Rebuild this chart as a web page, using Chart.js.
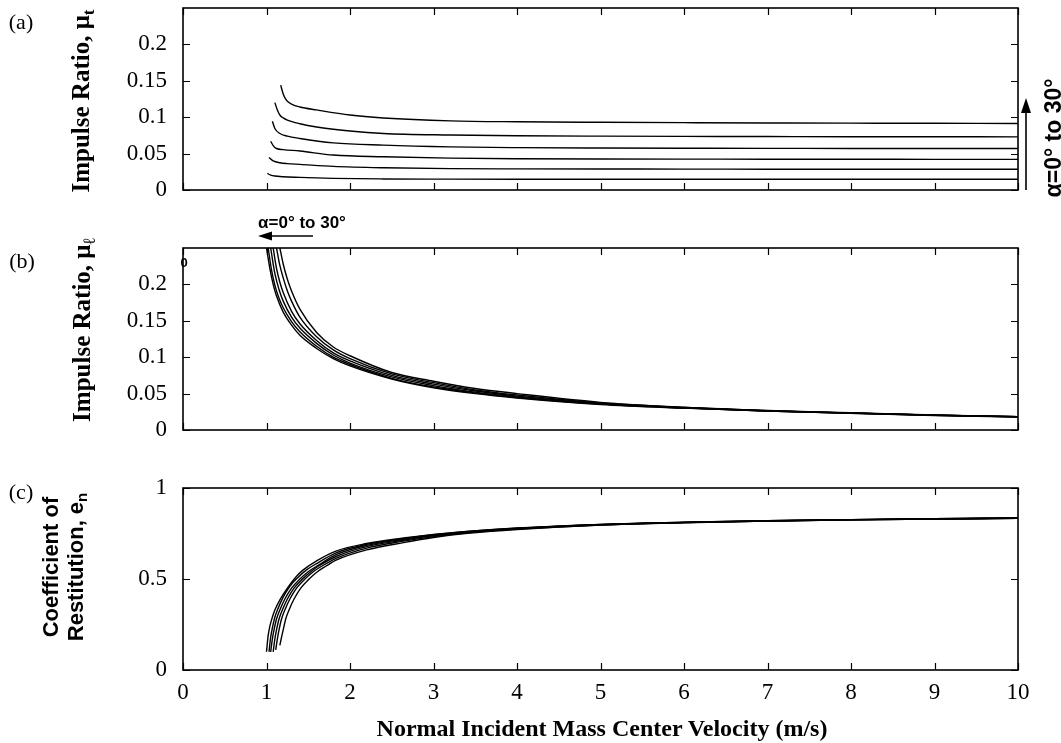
<!DOCTYPE html>
<html><head><meta charset="utf-8">
<script src="https://cdn.jsdelivr.net/npm/chart.js@4.4.1/dist/chart.umd.min.js"></script>
<style>
html,body{margin:0;padding:0;background:#fff;}
#wrap{position:relative;width:1061px;height:743px;overflow:hidden;background:#fff;}
canvas{position:absolute;left:0;top:0;}
.t{position:absolute;white-space:nowrap;color:#000;line-height:1;}
.serif{font-family:"Liberation Serif","Times New Roman",serif;}
.sans{font-family:"Liberation Sans",Arial,sans-serif;}
.rot{transform:translate(-50%,-50%) rotate(-90deg);}
.ctr{transform:translate(-50%,-50%);}
sub{font-size:0.68em;vertical-align:-0.3em;line-height:0;}
</style></head><body>
<div id="wrap">
<canvas id="ca" width="1061" height="743"></canvas>
<canvas id="cb" width="1061" height="743"></canvas>
<canvas id="cc" width="1061" height="743"></canvas>
<svg id="arr" width="1061" height="743" style="position:absolute;left:0;top:0">
  <line x1="1026" y1="190" x2="1026" y2="110" stroke="#000" stroke-width="1.6"/>
  <polygon points="1026,98 1021,113 1031,113" fill="#000"/>
  <line x1="313" y1="236" x2="268" y2="236" stroke="#000" stroke-width="1.6"/>
  <polygon points="258,236 272,231.5 272,240.5" fill="#000"/>
</svg>
<div class="t serif ctr" style="left:21px;top:22px;font-size:22px">(a)</div>
<div class="t serif ctr" style="left:22px;top:261px;font-size:22px">(b)</div>
<div class="t serif ctr" style="left:21px;top:492px;font-size:22px">(c)</div>
<div class="t serif rot" style="left:80px;top:101px;font-size:25px;font-weight:bold">Impulse Ratio, μ<sub>t</sub></div>
<div class="t serif rot" style="left:81px;top:330px;font-size:25px;font-weight:bold">Impulse Ratio, μ<sub>ℓ</sub></div>
<div class="t sans rot" style="left:63px;top:567px;font-size:22px;font-weight:bold;line-height:25px;text-align:center">Coefficient of<br>Restitution, e<sub>n</sub></div>
<div class="t serif ctr" style="left:602px;top:728px;font-size:24px;font-weight:bold">Normal Incident Mass Center Velocity (m/s)</div>
<div class="t sans ctr" style="left:184px;top:262px;font-size:13px;font-weight:bold">0</div>
<div class="t sans rot" style="left:1053px;top:138px;font-size:23px;font-weight:bold">α=0° to 30°</div>
<div class="t sans ctr" style="left:302px;top:222px;font-size:17px;font-weight:bold">α=0° to 30°</div>
</div>
<script>
// ---------- tick labels ----------
const xTicks = [0,1,2,3,4,5,6,7,8,9,10];
const yTicksMu = [0,0.05,0.1,0.15,0.2];
const yTicksE = [0,0.5,1];

// ---------- panel (a): tangential impulse ratio, alpha = 0..30 deg ----------
const aV0 = [1.01,1.05,1.1,1.2,1.4,1.8,2.4,3.2,4,5,6,7,8,9,10];
const aMu0 = [0.0228,0.0205,0.0192,0.0182,0.0174,0.0160,0.0152,0.0149,0.0148,0.0148,0.0147,0.0147,0.0147,0.0147,0.0147];
const aV1 = [1.03,1.08,1.16,1.25,1.4,1.8,2.4,3.2,4,5,6,7,8,9,10];
const aMu1 = [0.0447,0.0400,0.0374,0.0362,0.0352,0.0325,0.0306,0.0294,0.0290,0.0288,0.0287,0.0286,0.0285,0.0285,0.0284];
const aV2 = [1.05,1.08,1.12,1.2,1.4,1.8,2.4,3.2,4,5,6,7,8,9,10];
const aMu2 = [0.067,0.061,0.057,0.0555,0.0535,0.048,0.0456,0.0438,0.0430,0.0426,0.0424,0.0423,0.0422,0.0421,0.042];
const aV3 = [1.07,1.1,1.16,1.25,1.4,1.8,2.4,3.2,4,5,6,7,8,9,10];
const aMu3 = [0.0945,0.0845,0.0776,0.0740,0.0708,0.0648,0.0616,0.0592,0.0582,0.0577,0.0574,0.0572,0.0571,0.057,0.057];
const aV4 = [1.10,1.13,1.16,1.2,1.25,1.4,1.6,2,2.4,3.2,4,5,6,7,8,9,10];
const aMu4 = [0.120,0.110,0.103,0.099,0.096,0.091,0.0865,0.081,0.0776,0.0755,0.0745,0.0740,0.0737,0.0734,0.0732,0.0731,0.073];
const aV5 = [1.17,1.2,1.24,1.3,1.4,1.6,2,2.4,3.2,4,5,6,7,8,9,10];
const aMu5 = [0.144,0.132,0.123,0.118,0.114,0.110,0.103,0.099,0.0950,0.0937,0.0930,0.0925,0.0921,0.0918,0.0916,0.0914];

// ---------- panel (b): impulse ratio mu_l ----------
const bV0 = [1.0,1.04,1.08,1.12,1.2,1.3,1.4,1.6,1.8,2,2.5,3,3.5,4,5,6,7,8,9,10];
const bMu0 = [0.25,0.222,0.200,0.184,0.162,0.144,0.130,0.112,0.098,0.088,0.070,0.058,0.050,0.044,0.035,0.030,0.026,0.023,0.020,0.018];
const bV1 = [1.02,1.06,1.1,1.15,1.2,1.3,1.4,1.6,1.8,2,2.5,3,3.5,4,5,6,7,8,9,10];
const bMu1 = [0.25,0.220,0.199,0.181,0.168,0.149,0.135,0.115,0.100,0.090,0.071,0.059,0.051,0.0445,0.0355,0.0302,0.0261,0.0231,0.0202,0.0181];
const bV2 = [1.05,1.1,1.15,1.2,1.3,1.4,1.6,1.8,2,2.5,3,3.5,4,5,6,7,8,9,10];
const bMu2 = [0.25,0.215,0.193,0.177,0.155,0.140,0.119,0.103,0.092,0.073,0.061,0.052,0.0455,0.036,0.0304,0.0262,0.0232,0.0203,0.0182];
const bV3 = [1.08,1.12,1.16,1.2,1.3,1.4,1.6,1.8,2,2.5,3,3.5,4,5,6,7,8,9,10];
const bMu3 = [0.25,0.222,0.203,0.189,0.163,0.146,0.123,0.106,0.095,0.075,0.063,0.0535,0.0465,0.0365,0.0306,0.0263,0.0233,0.0204,0.0182];
const bV4 = [1.12,1.16,1.2,1.25,1.3,1.4,1.6,1.8,2,2.5,3,3.5,4,5,6,7,8,9,10];
const bMu4 = [0.25,0.226,0.209,0.191,0.177,0.155,0.128,0.110,0.098,0.077,0.065,0.055,0.048,0.037,0.0309,0.0265,0.0234,0.0205,0.0183];
const bV5 = [1.16,1.2,1.25,1.3,1.4,1.6,1.8,2,2.5,3,3.5,4,5,6,7,8,9,10];
const bMu5 = [0.25,0.228,0.207,0.191,0.166,0.134,0.114,0.102,0.079,0.067,0.057,0.050,0.038,0.0312,0.0267,0.0236,0.0206,0.0184];

// ---------- panel (c): coefficient of restitution e_n ----------
const cV0 = [1.0,1.02,1.04,1.07,1.1,1.16,1.25,1.35,1.44,1.6,1.84,2.2,2.64,3,3.44,4,5,6,7,8,9,10];
const cE0 = [0.10,0.19,0.24,0.29,0.33,0.385,0.45,0.51,0.55,0.60,0.655,0.695,0.725,0.745,0.763,0.78,0.80,0.812,0.82,0.826,0.831,0.835];
const cV1 = [1.03,1.05,1.07,1.1,1.14,1.2,1.28,1.38,1.48,1.6,1.84,2.2,2.64,3,3.44,4,5,6,7,8,9,10];
const cE1 = [0.10,0.18,0.23,0.29,0.34,0.40,0.46,0.51,0.55,0.585,0.645,0.69,0.722,0.743,0.762,0.779,0.80,0.812,0.82,0.826,0.831,0.835];
const cV2 = [1.05,1.07,1.09,1.12,1.16,1.22,1.3,1.4,1.5,1.6,1.84,2.2,2.64,3,3.44,4,5,6,7,8,9,10];
const cE2 = [0.10,0.17,0.22,0.28,0.33,0.39,0.45,0.50,0.54,0.57,0.635,0.685,0.718,0.74,0.76,0.778,0.799,0.811,0.82,0.826,0.831,0.835];
const cV3 = [1.08,1.1,1.12,1.15,1.19,1.25,1.33,1.43,1.53,1.62,1.84,2.2,2.64,3,3.44,4,5,6,7,8,9,10];
const cE3 = [0.10,0.17,0.22,0.28,0.33,0.39,0.45,0.50,0.54,0.57,0.625,0.678,0.713,0.737,0.758,0.776,0.798,0.81,0.819,0.825,0.830,0.834];
const cV4 = [1.11,1.13,1.15,1.18,1.22,1.28,1.36,1.46,1.56,1.66,1.84,2.2,2.64,3,3.44,4,5,6,7,8,9,10];
const cE4 = [0.11,0.17,0.22,0.28,0.33,0.39,0.45,0.50,0.54,0.57,0.615,0.67,0.708,0.733,0.755,0.774,0.797,0.81,0.819,0.825,0.830,0.834];
const cV5 = [1.16,1.18,1.2,1.23,1.27,1.33,1.41,1.51,1.61,1.71,1.84,2.2,2.64,3,3.44,4,5,6,7,8,9,10];
const cE5 = [0.135,0.18,0.22,0.28,0.33,0.39,0.45,0.50,0.54,0.57,0.605,0.66,0.70,0.728,0.752,0.772,0.796,0.809,0.818,0.825,0.830,0.834];

// ---------- helpers ----------
function series(xs, ys){
  return {data: xs.map((x,i)=>({x:x, y:ys[i]})), borderColor:'#000', borderWidth:1.4,
    pointRadius:0, fill:false, cubicInterpolationMode:'monotone'};
}
const framePlugin = {
  id:'frameTicks',
  afterDatasetsDraw(chart, args, o){
    const ctx = chart.ctx, a = chart.chartArea, x = chart.scales.x, y = chart.scales.y;
    ctx.save();
    ctx.strokeStyle = '#000'; ctx.lineWidth = 1.2;
    ctx.beginPath();
    o.xt.forEach(v=>{ const p = Math.round(x.getPixelForValue(v))+0.5;
      ctx.moveTo(p,a.bottom); ctx.lineTo(p,a.bottom-7); ctx.moveTo(p,a.top); ctx.lineTo(p,a.top+7); });
    o.yt.forEach(v=>{ const p = Math.round(y.getPixelForValue(v))+0.5;
      ctx.moveTo(a.left,p); ctx.lineTo(a.left+7,p); ctx.moveTo(a.right,p); ctx.lineTo(a.right-7,p); });
    ctx.stroke();
    ctx.lineWidth = 1.6;
    ctx.strokeRect(a.left, a.top, a.right-a.left, a.bottom-a.top);
    ctx.restore();
  }
};
const tickFont = {family:'"Liberation Serif","Times New Roman",serif', size:23};

function makeChart(id, datasets, yMax, yTicks, padTop, padBottom, showX){
  const xScale = {
    type:'linear', min:0, max:10, display: showX,
    grid:{display:false, drawTicks:false}, border:{display:false},
    afterBuildTicks: s => { s.ticks = xTicks.map(v=>({value:v})); },
    ticks:{display: showX, font: tickFont, color:'#000', padding:9, maxRotation:0, autoSkip:false,
      callback: v => String(v)},
    afterFit: s => { s.height = showX ? 40 : 0; s.paddingLeft = 0; s.paddingRight = 0; }
  };
  return new Chart(document.getElementById(id), {
    type:'line',
    data:{datasets: datasets},
    options:{
      responsive:false, animation:false, devicePixelRatio:1,
      layout:{padding:{left:0, right:43, top:padTop, bottom:padBottom}},
      plugins:{legend:{display:false}, tooltip:{enabled:false}, frameTicks:{xt:xTicks, yt:yTicks}},
      scales:{
        x: xScale,
        y:{type:'linear', min:0, max:yMax,
          grid:{display:false, drawTicks:false}, border:{display:false},
          afterBuildTicks: s => { s.ticks = yTicks.map(v=>({value:v})); },
          ticks:{font: tickFont, color:'#000', padding:16, autoSkip:false, callback: v => String(v)},
          afterFit: s => { s.width = 183; s.paddingTop = 0; s.paddingBottom = 0; }
        }
      }
    },
    plugins:[framePlugin]
  });
}

makeChart('ca', [series(aV0,aMu0),series(aV1,aMu1),series(aV2,aMu2),series(aV3,aMu3),series(aV4,aMu4),series(aV5,aMu5)],
  0.25, yTicksMu, 8, 743-190, false);
makeChart('cb', [series(bV0,bMu0),series(bV1,bMu1),series(bV2,bMu2),series(bV3,bMu3),series(bV4,bMu4),series(bV5,bMu5)],
  0.25, yTicksMu, 248, 743-430, false);
makeChart('cc', [series(cV0,cE0),series(cV1,cE1),series(cV2,cE2),series(cV3,cE3),series(cV4,cE4),series(cV5,cE5)],
  1, yTicksE, 488, 743-670-40, true);
</script>
</body></html>
